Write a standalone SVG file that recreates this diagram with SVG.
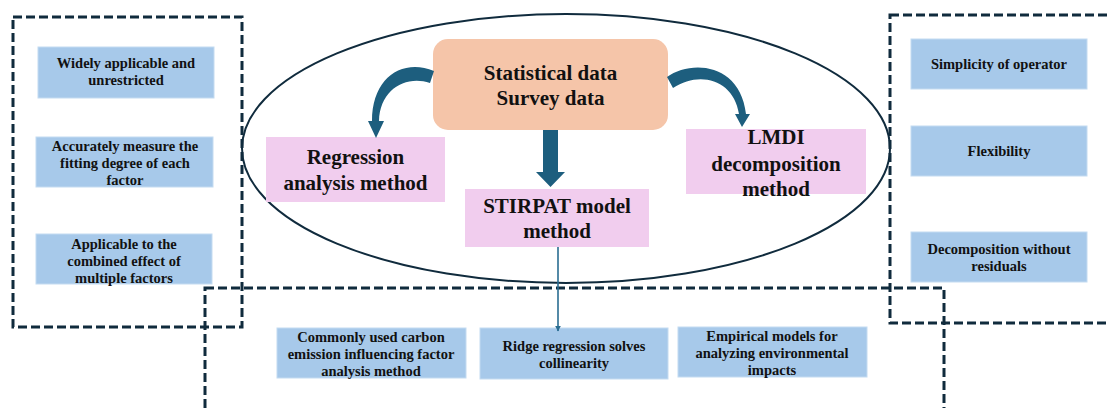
<svg xmlns="http://www.w3.org/2000/svg" width="1107" height="408" viewBox="0 0 1107 408">
  <defs>
    <style>
      .frame { fill: none; stroke: #102b3d; stroke-width: 3; stroke-dasharray: 9 4; }
      .blue { fill: #a7c9ea; stroke: #c4dbf1; stroke-width: 1; }
      .pink { fill: #f1cdee; }
      .src { fill: #f5c5a9; }
      .t-sm { font-family: "Liberation Serif", "Times New Roman", serif; font-weight: bold; font-size: 14.5px; fill: #111; text-anchor: middle; }
      .t-lg { font-family: "Liberation Serif", "Times New Roman", serif; font-weight: bold; font-size: 21px; fill: #111; text-anchor: middle; }
      .bend { fill: #1d5e7e; }
      .thin { stroke: #2a6d91; stroke-width: 1.6; fill: none; }
    </style>
    <marker id="tip" viewBox="0 0 10 10" refX="9" refY="5" markerWidth="6" markerHeight="6" markerUnits="userSpaceOnUse" orient="auto">
      <path d="M0,0 L10,5 L0,10 Z" fill="#2a6d91"/>
    </marker>
  </defs>

  <rect width="1107" height="408" fill="#ffffff"/>

  <!-- dashed group frames -->
  <g id="frames">
    <rect class="frame" x="13" y="17" width="229" height="310"/>
    <rect class="frame" x="890" y="15" width="240" height="308"/>
    <rect class="frame" x="205" y="288" width="739" height="140"/>
  </g>

  <!-- method ellipse -->
  <ellipse id="methods" cx="566" cy="148.5" rx="324" ry="134.5" fill="none" stroke="#102b3d" stroke-width="2"/>

  <!-- left column: regression analysis traits -->
  <g id="adv-widely">
    <rect class="blue" x="38" y="47" width="176" height="51"/>
    <text class="t-sm" x="126" y="68">Widely applicable and</text>
    <text class="t-sm" x="126" y="85">unrestricted</text>
  </g>
  <g id="adv-fitting">
    <rect class="blue" x="36" y="137" width="177" height="50"/>
    <text class="t-sm" x="125" y="151">Accurately measure the</text>
    <text class="t-sm" x="125" y="168">fitting degree of each</text>
    <text class="t-sm" x="125" y="185">factor</text>
  </g>
  <g id="adv-combined">
    <rect class="blue" x="36" y="234" width="176" height="50"/>
    <text class="t-sm" x="124" y="249">Applicable to the</text>
    <text class="t-sm" x="124" y="266">combined effect of</text>
    <text class="t-sm" x="124" y="283">multiple factors</text>
  </g>

  <!-- right column: LMDI traits -->
  <g id="adv-simplicity">
    <rect class="blue" x="911" y="39" width="176" height="50"/>
    <text class="t-sm" x="999" y="69">Simplicity of operator</text>
  </g>
  <g id="adv-flexibility">
    <rect class="blue" x="911" y="126" width="176" height="50"/>
    <text class="t-sm" x="999" y="156">Flexibility</text>
  </g>
  <g id="adv-residuals">
    <rect class="blue" x="911" y="232" width="176" height="50"/>
    <text class="t-sm" x="999" y="254">Decomposition without</text>
    <text class="t-sm" x="999" y="271">residuals</text>
  </g>

  <!-- bottom row: STIRPAT traits -->
  <g id="adv-common">
    <rect class="blue" x="277" y="328" width="189" height="50"/>
    <text class="t-sm" x="371" y="342">Commonly used carbon</text>
    <text class="t-sm" x="371" y="359">emission influencing factor</text>
    <text class="t-sm" x="371" y="376">analysis method</text>
  </g>
  <g id="adv-ridge">
    <rect class="blue" x="480" y="328" width="188" height="51"/>
    <text class="t-sm" x="574" y="351">Ridge regression solves</text>
    <text class="t-sm" x="574" y="368">collinearity</text>
  </g>
  <g id="adv-empirical">
    <rect class="blue" x="678" y="327" width="189" height="50"/>
    <text class="t-sm" x="772" y="341">Empirical models for</text>
    <text class="t-sm" x="772" y="358">analyzing environmental</text>
    <text class="t-sm" x="772" y="375">impacts</text>
  </g>

  <!-- data source -->
  <g id="data">
    <rect class="src" x="433" y="39" width="235" height="91" rx="15"/>
    <text class="t-lg" x="550.5" y="80">Statistical data</text>
    <text class="t-lg" x="550.5" y="105">Survey data</text>
  </g>

  <!-- methods -->
  <g id="regression">
    <rect class="pink" x="266" y="137" width="179" height="65"/>
    <text class="t-lg" x="355.5" y="164">Regression</text>
    <text class="t-lg" x="355.5" y="190">analysis method</text>
  </g>
  <g id="stirpat">
    <rect class="pink" x="465" y="189" width="184" height="58"/>
    <text class="t-lg" x="557" y="213">STIRPAT model</text>
    <text class="t-lg" x="557" y="238">method</text>
  </g>
  <g id="lmdi">
    <rect class="pink" x="686" y="129" width="180" height="65"/>
    <text class="t-lg" x="776" y="144">LMDI</text>
    <text class="t-lg" x="776" y="171">decomposition</text>
    <text class="t-lg" x="776" y="196">method</text>
  </g>

  <!-- connectors -->
  <g id="connectors">
    <!-- curved arrow to regression -->
    <path class="bend" d="M434,71 C402,58 372,78 372,121 L368,121 L376,138 L384,121 L379,121 C380,90 405,75 430,83 Z"/>
    <!-- curved arrow to LMDI -->
    <path class="bend" d="M667,77 C690,60 740,62 746,114 L750,114 L742,127 L735,114 L739,114 C734,80 700,70 673,88 Z"/>
    <!-- block arrow to STIRPAT -->
    <path class="bend" d="M543,130 L558,130 L558,172 L565,172 L550.5,187 L536,172 L543,172 Z"/>
    <!-- STIRPAT to ridge regression -->
    <line class="thin" x1="558" y1="247" x2="558" y2="331" marker-end="url(#tip)"/>
  </g>
</svg>
